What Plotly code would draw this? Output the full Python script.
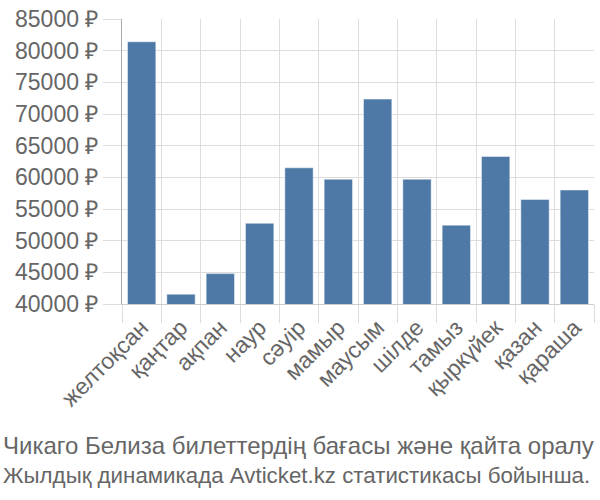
import plotly.graph_objects as go

months = ["желтоқсан", "қаңтар", "ақпан", "наур", "сәуір", "мамыр",
          "маусым", "шілде", "тамыз", "қыркүйек", "қазан", "қараша"]
prices = [81400, 41550, 44800, 52750, 61500, 59700,
          72350, 59700, 52450, 63300, 56500, 58000]
ytick_vals = [40000, 45000, 50000, 55000, 60000, 65000, 70000, 75000, 80000, 85000]
ytick_text = [f"{v} ₽" for v in ytick_vals]
title_lines = ["Чикаго Белиза билеттердің бағасы және қайта оралу",
               "Жылдық динамикада Avticket.kz статистикасы бойынша."]
title_sizes = [24, 22.3]

font = "Liberation Sans, Arial, sans-serif"
grey = "#666666"

fig = go.Figure(go.Bar(
    x=months, y=prices,
    marker=dict(color="#4e79a7", line=dict(color="rgba(255,255,255,0.45)", width=1)),
))

T, B = 14, 196
plot_h = 500 - T - B

def ypix(p):
    return (500 - B - p) / plot_h

fig.update_layout(
    width=600, height=500,
    margin=dict(l=122, r=6, t=T, b=B),
    paper_bgcolor="white", plot_bgcolor="white",
    bargap=0.28,
    showlegend=False,
    font=dict(family=font, color=grey, size=23),
    xaxis=dict(
        tickson="boundaries", showgrid=True, gridcolor="#dddddd", gridwidth=1,
        ticks="outside", ticklen=18, tickcolor="#dddddd",
        tickangle=-45, tickfont=dict(size=23, color=grey),
        showline=True, linecolor="#cccccc",
    ),
    yaxis=dict(
        range=[40000, 85000], tickvals=ytick_vals, ticktext=ytick_text,
        showgrid=True, gridcolor="#dddddd", gridwidth=1,
        ticks="outside", ticklen=18, tickcolor="#dddddd",
        tickfont=dict(size=23, color=grey),
        showline=True, linecolor="#aaaaaa", zeroline=False,
    ),
)

for line, py, sz in zip(title_lines, [448, 478], title_sizes):
    fig.add_annotation(text=line, x=0, xref="paper", xanchor="left", xshift=-121,
                       y=ypix(py), yref="paper", yanchor="middle", showarrow=False,
                       font=dict(size=sz, color=grey, family=font))

fig.write_html("out.html")
